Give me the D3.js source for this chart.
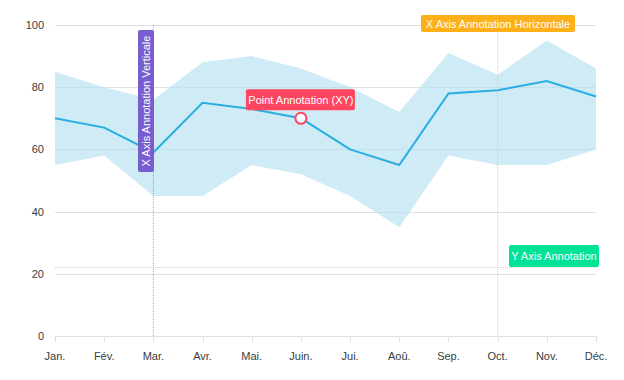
<!DOCTYPE html>
<html><head><meta charset="utf-8">
<script src="https://cdn.jsdelivr.net/npm/d3@7"></script>
<style>body{margin:0;background:#fff}svg{font-family:"Liberation Sans",Arial,sans-serif}</style>
</head><body><svg id="c" width="624" height="380"></svg>
<script>
const months = ["Jan.","Fév.","Mar.","Avr.","Mai.","Juin.","Jui.","Aoû.","Sep.","Oct.","Nov.","Déc."];
const lineValues = [70,67,59,75,73,70,60,55,78,79,82,77];
const upperValues = [85,80,76,88,90,86,80,72,91,84,95,86];
const lowerValues = [55,58,45,45,55,52,45,35,58,55,55,60];
const yTicks = [0,20,40,60,80,100];
const yAnnotationValue = 22;
const xAnnotationVertical = "Mar.";
const xAnnotationHorizontal = "Oct.";
const pointAnnotation = {x:"Juin.", y:70};

const svg = d3.select("#c");
const x = d3.scalePoint().domain(months).range([55,596]);
const y = d3.scaleLinear().domain([0,100]).range([336,25]);
const snap = v => Math.round(v) + 0.5;

// grid
svg.append("g").selectAll("line").data(yTicks.filter(d=>d>0)).join("line")
  .attr("x1",55).attr("x2",596).attr("y1",d=>snap(y(d))).attr("y2",d=>snap(y(d)))
  .attr("stroke","#e0e0e0").attr("stroke-width",1);

// y labels
svg.append("g").selectAll("text").data(yTicks).join("text")
  .attr("x",44).attr("y",d=>y(d)+4).attr("text-anchor","end")
  .attr("font-size",11).attr("fill","#373d3f").text(d=>d);

// area
const area = d3.area().x((d,i)=>x(months[i])).y0((d,i)=>y(lowerValues[i])).y1(d=>y(d));
svg.append("path").datum(upperValues).attr("d",area).attr("fill","#b5e0f0").attr("opacity",0.65);

// x axis
svg.append("line").attr("x1",55).attr("x2",596).attr("y1",336.5).attr("y2",336.5).attr("stroke","#e0e0e0");
svg.append("g").selectAll("line").data(months).join("line")
  .attr("x1",d=>snap(x(d))).attr("x2",d=>snap(x(d))).attr("y1",336).attr("y2",342).attr("stroke","#e0e0e0");
svg.append("g").selectAll("text").data(months).join("text")
  .attr("x",d=>x(d)).attr("y",360).attr("text-anchor","middle")
  .attr("font-size",11).attr("fill","#373d3f").text(d=>d);

// line
const line = d3.line().x((d,i)=>x(months[i])).y(d=>y(d));
svg.append("path").datum(lineValues).attr("d",line).attr("fill","none")
  .attr("stroke","#29aee3").attr("stroke-width",2);

// y annotation
const ya = y(yAnnotationValue);
svg.append("line").attr("x1",55).attr("x2",596).attr("y1",ya).attr("y2",ya)
  .attr("stroke","#00E396").attr("stroke-opacity",0.45).attr("stroke-dasharray","1,1").attr("stroke-width",1);
svg.append("rect").attr("x",509).attr("y",245).attr("width",90).attr("height",22).attr("rx",2).attr("fill","#00E396");
svg.append("text").attr("x",554).attr("y",260).attr("text-anchor","middle").attr("font-size",11).attr("fill","#fff").text("Y Axis Annotation");

// x annotation vertical
const xv = x(xAnnotationVertical);
svg.append("line").attr("x1",xv).attr("x2",xv).attr("y1",25).attr("y2",336)
  .attr("stroke","#775DD0").attr("stroke-opacity",0.6).attr("stroke-dasharray","1,1");
svg.append("rect").attr("x",138).attr("y",30).attr("width",16).attr("height",142).attr("rx",2).attr("fill","#775DD0");
svg.append("text").attr("transform",`translate(149.5,101) rotate(-90)`).attr("text-anchor","middle")
  .attr("font-size",11).attr("fill","#fff").text("X Axis Annotation Verticale");

// x annotation horizontal
const xh = x(xAnnotationHorizontal);
svg.append("line").attr("x1",xh).attr("x2",xh).attr("y1",25).attr("y2",336)
  .attr("stroke","#FEB019").attr("stroke-opacity",0.6).attr("stroke-dasharray","1,1");
svg.append("rect").attr("x",421).attr("y",15).attr("width",154).attr("height",17).attr("rx",2).attr("fill","#FEB019");
svg.append("text").attr("x",498).attr("y",28).attr("text-anchor","middle").attr("font-size",11).attr("fill","#fff").text("X Axis Annotation Horizontale");

// point annotation
const px = x(pointAnnotation.x), py = y(pointAnnotation.y);
svg.append("rect").attr("x",px-55).attr("y",py-29).attr("width",109).attr("height",21).attr("rx",2).attr("fill","#FF4560");
svg.append("text").attr("x",px).attr("y",py-14).attr("text-anchor","middle").attr("font-size",11).attr("fill","#fff").text("Point Annotation (XY)");
svg.append("circle").attr("cx",px).attr("cy",py).attr("r",5.5).attr("fill","#fff").attr("stroke","#FF4560").attr("stroke-width",2);
</script></body></html>
